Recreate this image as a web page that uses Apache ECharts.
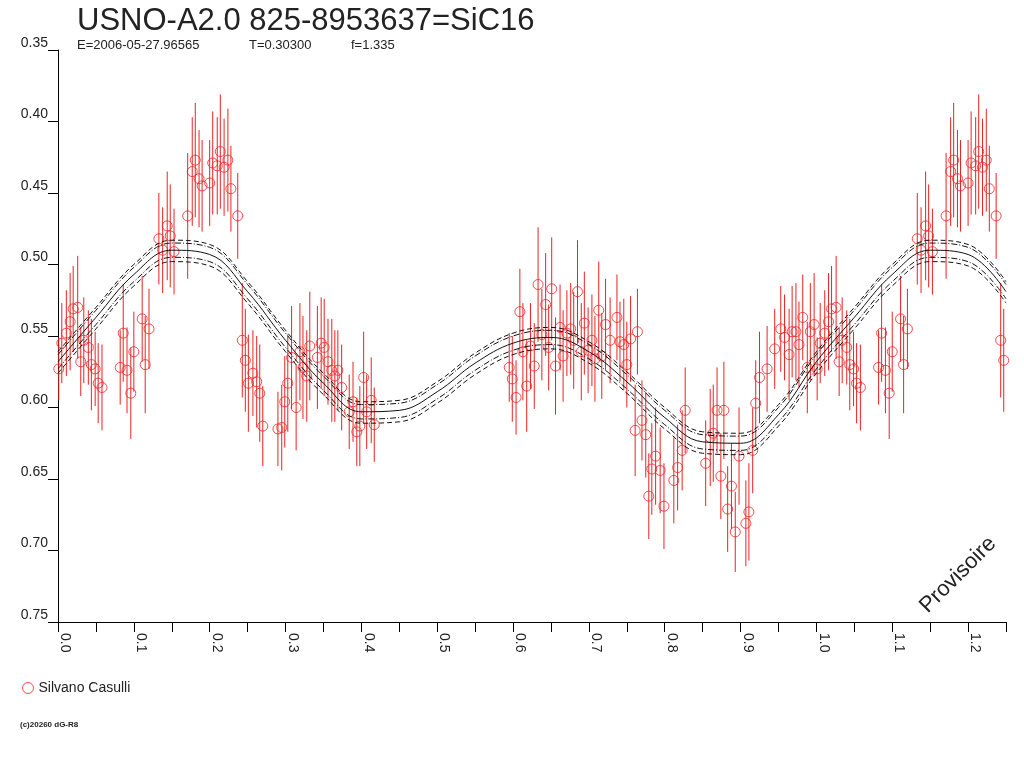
<!DOCTYPE html>
<html>
<head>
<meta charset="utf-8">
<title>USNO-A2.0 825-8953637=SiC16</title>
<script src="https://cdn.jsdelivr.net/npm/echarts@6/dist/echarts.min.js"></script>
<style>
    html, body { margin: 0; padding: 0; background: #fff; }
    #chart { width: 1024px; height: 768px; }
</style>
</head>
<body>
<div id="chart"></div>
<script>
// phase / magnitude / error of each observation (phase 0..1)
var obsPhase = [
    0.001, 0.005, 0.011, 0.016, 0.020, 0.026, 0.030, 0.034, 0.040, 0.044, 0.049, 0.053, 0.058,
    0.082, 0.086, 0.091, 0.096, 0.100, 0.111, 0.115, 0.120,
    0.133, 0.138, 0.144, 0.148, 0.153,
    0.171, 0.177, 0.181, 0.186, 0.190, 0.200, 0.204, 0.210, 0.214, 0.219, 0.224, 0.228, 0.237,
    0.243, 0.247, 0.251, 0.257, 0.262, 0.266, 0.270,
    0.290, 0.295, 0.299, 0.303, 0.308, 0.314, 0.319, 0.323, 0.328, 0.332,
    0.342, 0.347, 0.351, 0.356, 0.361, 0.365, 0.369, 0.374,
    0.384, 0.389, 0.394, 0.398, 0.403, 0.407, 0.413, 0.417,
    0.595, 0.599, 0.604, 0.609, 0.613, 0.618, 0.623, 0.628, 0.633, 0.638, 0.643, 0.647, 0.651, 0.656, 0.662, 0.666, 0.671, 0.676, 0.680, 0.685,
    0.690, 0.694, 0.699, 0.704, 0.708, 0.713, 0.717, 0.722, 0.728, 0.737, 0.741, 0.746, 0.750, 0.755, 0.761, 0.764, 0.770, 0.775, 0.779, 0.783,
    0.788, 0.794, 0.799, 0.812, 0.817, 0.823, 0.827, 0.854, 0.860, 0.864, 0.869, 0.874, 0.878, 0.883, 0.888, 0.893, 0.898, 0.907, 0.911, 0.916,
    0.920, 0.925, 0.935, 0.945, 0.953, 0.958, 0.964, 0.968, 0.973, 0.977, 0.982, 0.988, 0.992, 0.997
];
var obsMag = [
    0.573, 0.555, 0.548, 0.540, 0.531, 0.530, 0.568, 0.553, 0.558, 0.570, 0.573, 0.583, 0.586,
    0.572, 0.548, 0.574, 0.590, 0.561, 0.538, 0.570, 0.545,
    0.482, 0.490, 0.473, 0.480, 0.491,
    0.466, 0.435, 0.427, 0.440, 0.445, 0.443, 0.429, 0.431, 0.421, 0.432, 0.427, 0.447, 0.466,
    0.553, 0.567, 0.583, 0.576, 0.582, 0.590, 0.613,
    0.615, 0.614, 0.596, 0.583, 0.565, 0.600, 0.561, 0.572, 0.578, 0.557,
    0.565, 0.555, 0.558, 0.568, 0.574, 0.578, 0.574, 0.586,
    0.603, 0.596, 0.617, 0.613, 0.579, 0.603, 0.595, 0.612,
    0.572, 0.580, 0.593, 0.533, 0.561, 0.585, 0.557, 0.571, 0.514, 0.549, 0.528, 0.558, 0.517, 0.571, 0.544, 0.564, 0.548, 0.545, 0.553, 0.519,
    0.561, 0.541, 0.560, 0.553, 0.566, 0.532, 0.564, 0.542, 0.553, 0.537, 0.554, 0.556, 0.570, 0.552, 0.616, 0.547, 0.609, 0.619, 0.662, 0.643,
    0.634, 0.644, 0.669, 0.651, 0.642, 0.630, 0.602, 0.639, 0.621, 0.618, 0.602, 0.648, 0.602, 0.671, 0.655, 0.687, 0.634, 0.681, 0.673, 0.630,
    0.597, 0.579, 0.573, 0.559, 0.545, 0.551, 0.563, 0.547, 0.547, 0.556, 0.537, 0.572, 0.547, 0.542
];
var obsErr = [
    0.022, 0.028, 0.030, 0.034, 0.030, 0.036, 0.024, 0.030, 0.026, 0.032, 0.026, 0.028, 0.030,
    0.026, 0.034, 0.030, 0.032, 0.028, 0.030, 0.034, 0.028,
    0.032, 0.030, 0.038, 0.036, 0.030,
    0.044, 0.038, 0.040, 0.034, 0.032, 0.030, 0.036, 0.034, 0.040, 0.034, 0.036, 0.030, 0.030,
    0.040, 0.036, 0.034, 0.030, 0.032, 0.034, 0.028,
    0.026, 0.030, 0.032, 0.034, 0.036, 0.030, 0.034, 0.036, 0.032, 0.038,
    0.036, 0.032, 0.034, 0.030, 0.036, 0.032, 0.028, 0.030,
    0.026, 0.028, 0.024, 0.028, 0.032, 0.026, 0.030, 0.026,
    0.024, 0.030, 0.026, 0.030, 0.034, 0.032, 0.030, 0.030, 0.040, 0.032, 0.036, 0.030, 0.036, 0.034, 0.030, 0.032, 0.030, 0.032, 0.034, 0.036,
    0.034, 0.036, 0.030, 0.032, 0.030, 0.034, 0.030, 0.032, 0.030, 0.030, 0.028, 0.032, 0.030, 0.030, 0.032, 0.030, 0.028, 0.030, 0.030, 0.032,
    0.034, 0.030, 0.030, 0.030, 0.030, 0.028, 0.030, 0.030, 0.034, 0.034, 0.030, 0.030, 0.034, 0.030, 0.030, 0.028, 0.034, 0.030, 0.034, 0.030,
    0.030, 0.032, 0.030, 0.028, 0.030, 0.030, 0.032, 0.032, 0.034, 0.030, 0.030, 0.032, 0.034, 0.036
];

// fit curve and its envelopes, read every 0.05 in phase
var fitPhase = [0.00, 0.05, 0.10, 0.15, 0.20, 0.25, 0.30, 0.35, 0.40, 0.45, 0.50, 0.55, 0.60,
    0.65, 0.70, 0.75, 0.80, 0.85, 0.90, 0.95, 1.00, 1.05, 1.10, 1.15, 1.20, 1.25];
var fitMid = [0.568, 0.537, 0.507, 0.490, 0.493, 0.519, 0.553, 0.583, 0.603, 0.602, 0.589, 0.569, 0.555,
    0.551, 0.561, 0.582, 0.607, 0.624, 0.625, 0.605, 0.568, 0.537, 0.507, 0.490, 0.493, 0.519];
var fitUp2 = [0.561, 0.530, 0.500, 0.483, 0.486, 0.512, 0.546, 0.576, 0.596, 0.595, 0.582, 0.562, 0.548,
    0.544, 0.554, 0.575, 0.600, 0.617, 0.618, 0.598, 0.561, 0.530, 0.500, 0.483, 0.486, 0.512];
var fitUp1 = [0.563, 0.532, 0.502, 0.485, 0.488, 0.514, 0.548, 0.578, 0.598, 0.597, 0.584, 0.564, 0.550,
    0.546, 0.556, 0.577, 0.602, 0.619, 0.620, 0.600, 0.563, 0.532, 0.502, 0.485, 0.488, 0.514];
var fitLo1 = [0.573, 0.542, 0.512, 0.495, 0.498, 0.524, 0.558, 0.588, 0.608, 0.607, 0.594, 0.574, 0.560,
    0.556, 0.566, 0.587, 0.612, 0.629, 0.630, 0.610, 0.573, 0.542, 0.512, 0.495, 0.498, 0.524];
var fitLo2 = [0.576, 0.545, 0.515, 0.498, 0.501, 0.527, 0.561, 0.591, 0.611, 0.610, 0.597, 0.577, 0.563,
    0.559, 0.569, 0.590, 0.615, 0.632, 0.633, 0.613, 0.576, 0.545, 0.515, 0.498, 0.501, 0.527];

var FONT = '"Liberation Sans", Arial, sans-serif';
var RED = '#ee2222';

var lcObj = {
    init: function () {
        var myChart = echarts.init(document.getElementById('chart'));
        myChart.setOption(this.getOption());
    },
    // phase is shown from 0 to 1.25, points below 0.25 are repeated one cycle later
    getPoints: function () {
        var pts = [], bars = [];
        for (var i = 0; i < obsPhase.length; i++) {
            pts.push([obsPhase[i], obsMag[i]]);
            bars.push([obsPhase[i], obsMag[i] - obsErr[i], obsMag[i] + obsErr[i]]);
            if (obsPhase[i] + 1 <= 1.25) {
                pts.push([obsPhase[i] + 1, obsMag[i]]);
                bars.push([obsPhase[i] + 1, obsMag[i] - obsErr[i], obsMag[i] + obsErr[i]]);
            }
        }
        return { pts: pts, bars: bars };
    },
    fitLine: function (arr, dash) {
        var data = [];
        for (var i = 0; i < fitPhase.length; i++) {
            data.push([fitPhase[i], arr[i]]);
        }
        return {
            type: 'line',
            data: data,
            smooth: 0.4,
            showSymbol: false,
            silent: true,
            z: 4,
            lineStyle: { color: '#111', width: 1, type: dash }
        };
    },
    getOption: function () {
        var p = this.getPoints();
        var series = [
            {
                name: 'err',
                type: 'custom',
                data: p.bars,
                z: 2,
                renderItem: function (params, api) {
                    var a = api.coord([api.value(0), api.value(1)]);
                    var b = api.coord([api.value(0), api.value(2)]);
                    return {
                        type: 'line',
                        shape: { x1: a[0], y1: a[1], x2: b[0], y2: b[1] },
                        style: { stroke: RED, lineWidth: 1 }
                    };
                }
            },
            {
                name: 'Silvano Casulli',
                type: 'scatter',
                data: p.pts,
                symbol: 'circle',
                symbolSize: 10,
                z: 3,
                itemStyle: { color: 'rgba(255,255,255,0)', borderColor: RED, borderWidth: 1 }
            },
            this.fitLine(fitMid, 'solid'),
            this.fitLine(fitUp1, [6, 2, 1, 2]),
            this.fitLine(fitUp2, [5, 3]),
            this.fitLine(fitLo1, [6, 2, 1, 2]),
            this.fitLine(fitLo2, [5, 3])
        ];
        var option = {
            animation: false,
            backgroundColor: '#fff',
            textStyle: { fontFamily: FONT },
            grid: { left: 58, right: 18, top: 50, bottom: 146 },
            legend: {
                data: ['Silvano Casulli'],
                left: 17,
                top: 676,
                itemWidth: 11,
                itemHeight: 11,
                itemStyle: { borderWidth: 1, borderColor: RED, color: 'rgba(255,255,255,0)' },
                textStyle: { fontSize: 14, color: '#222', fontFamily: FONT }
            },
            xAxis: {
                type: 'value',
                min: 0,
                max: 1.25,
                interval: 0.05,
                splitLine: { show: false },
                axisLine: { show: true, onZero: false, lineStyle: { color: '#000', width: 1 } },
                axisTick: { show: true, length: 10, lineStyle: { color: '#000' } },
                axisLabel: {
                    rotate: -90,
                    margin: 11,
                    fontSize: 14,
                    color: '#222',
                    verticalAlign: 'bottom',
                    formatter: function (v) {
                        return Math.round(v * 100) % 10 === 0 ? v.toFixed(1) : '';
                    }
                }
            },
            yAxis: {
                type: 'value',
                inverse: true,
                min: 0.35,
                max: 0.75,
                interval: 0.05,
                splitLine: { show: false },
                axisLine: { show: true, lineStyle: { color: '#000', width: 1 } },
                axisTick: { show: true, length: 10, lineStyle: { color: '#000' } },
                axisLabel: {
                    margin: 10,
                    fontSize: 14,
                    color: '#222',
                    verticalAlign: 'bottom',
                    formatter: function (v) { return v.toFixed(2); }
                }
            },
            graphic: [
                { type: 'text', x: 77, y: 6, style: { text: 'USNO-A2.0 825-8953637=SiC16', font: '31px ' + FONT, fill: '#222', verticalAlign: 'top' } },
                { type: 'text', x: 77, y: 39, style: { text: 'E=2006-05-27.96565', font: '13px ' + FONT, fill: '#222', verticalAlign: 'top' } },
                { type: 'text', x: 249, y: 39, style: { text: 'T=0.30300', font: '13px ' + FONT, fill: '#222', verticalAlign: 'top' } },
                { type: 'text', x: 351, y: 39, style: { text: 'f=1.335', font: '13px ' + FONT, fill: '#222', verticalAlign: 'top' } },
                { type: 'text', x: 958, y: 575, rotation: Math.PI / 4, style: { text: 'Provisoire', font: '22px ' + FONT, fill: '#222', align: 'center', verticalAlign: 'middle' } },
                { type: 'text', x: 20, y: 721, style: { text: '(c)20260 dG-R8', font: 'bold 8px ' + FONT, fill: '#222', verticalAlign: 'top' } }
            ],
            series: series
        };
        return option;
    }
};
lcObj.init();
</script>
</body>
</html>
